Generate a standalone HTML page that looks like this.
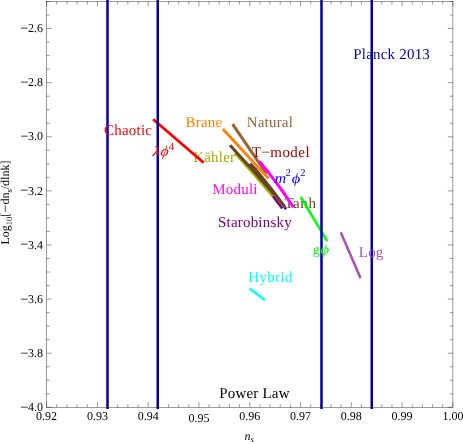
<!DOCTYPE html>
<html><head><meta charset="utf-8"><title>plot</title>
<style>
html,body{margin:0;padding:0;background:#fff;}
body{width:463px;height:444px;overflow:hidden;}
svg{display:block;}
text{font-family:"Liberation Serif",serif;}
.lab{font-size:15px;}
.tk{font-size:12px;fill:#000;}
.it{font-style:italic;}
</style></head><body>
<svg width="463" height="444" viewBox="0 0 463 444" style="will-change:transform">
<rect x="0" y="0" width="463" height="444" fill="#ffffff"/>

<g class="lab" transform="matrix(1 0 0.001 1 0 0)">
<text x="193.04" y="162.1" fill="#aaaa00" letter-spacing="0.2">Kähler</text>
<text x="284.19" y="208.5" fill="#664422" letter-spacing="0.6">Tanh</text>
</g>
<g fill="none" stroke-linecap="butt" stroke-linejoin="round">
<path d="M153.1 119.2 L203.7 162.7" stroke="#ff0000" stroke-width="2.8"/>
<path d="M232.6 124.2 L257.7 160.8 L266.5 173.7" stroke="#996633" stroke-width="3.0"/>
<path d="M235.1 152.9 L255 175.2 L273.5 196.9" stroke="#aaaa00" stroke-width="3.0"/>
<path d="M273 196.2 L282.3 208.5" stroke="#800080" stroke-width="2.6"/>
<path d="M222.9 129 L268.4 178.4" stroke="#ff8000" stroke-width="2.8"/>
<path d="M230.1 145.3 L240 156.25 L255 172.55 L274 194.2" stroke="#664422" stroke-width="3.0"/>
<path d="M250 163.6 L255 168.8 L269.7 187 L285 207.2" stroke="#664422" stroke-width="3.2"/>
<path d="M259.3 161.2 Q277.8 183.1 293.4 207.2" stroke="#ff00ff" stroke-width="3.0"/>
<path d="M284.6 207.6 L286.2 209" stroke="#0000ff" stroke-width="2.5"/>
<path d="M300.8 197 L327.2 241.2" stroke="#00ff00" stroke-width="2.5"/>
<path d="M340.7 232.2 L360.5 277.9" stroke="#a850b4" stroke-width="2.5"/>
<path d="M249.7 288.4 L265 300.2" stroke="#00ffff" stroke-width="2.5"/>
</g>
<g stroke="#0000aa" stroke-width="2.5">
<line x1="107.5" y1="0" x2="107.5" y2="409"/>
<line x1="157.75" y1="0" x2="157.75" y2="409"/>
<line x1="321.5" y1="0" x2="321.5" y2="409"/>
<line x1="371.75" y1="0" x2="371.75" y2="409"/>
</g>
<g class="lab" transform="matrix(1 0 0.001 1 0 0)">
<text x="103.96" y="135.3" fill="#ff0000" letter-spacing="0.2">Chaotic</text>
<text x="185.47" y="126.6" fill="#ff8000" letter-spacing="0.2">Brane</text>
<text x="246.57" y="126.9" fill="#996633" letter-spacing="0.2">Natural</text>
<text x="251.64" y="156.6" fill="#aa0000" letter-spacing="0.45">T−model</text>
<text x="212.11" y="194.5" fill="#ff00ff" letter-spacing="0.2">Moduli</text>
<text x="217.77" y="226.9" fill="#800080" letter-spacing="0.2">Starobinsky</text>
<text x="358.54" y="256.6" fill="#a850b4" letter-spacing="0.2">Log</text>
<text x="248.02" y="281.8" fill="#00ffff" letter-spacing="0.32">Hybrid</text>
<text x="218.8" y="397.7" fill="#000000" letter-spacing="0.2">Power Law</text>
<text x="353.24" y="59.2" fill="#0000aa" letter-spacing="0.2">Planck 2013</text>
</g>
<g transform="matrix(1 0 0.001 1 0 0)" fill="#ff0000">
<text transform="translate(152.34 156.4) skewX(-4) scale(1.28 1)" font-size="13.9" class="it">λ</text>
<text transform="translate(159.84 156.1) skewX(-9) scale(1.04 1)" font-size="15" class="it">ϕ</text>
<text x="168.55" y="149.6" font-size="11">4</text>
</g>
<g transform="matrix(1 0 0.001 1 0 0)" fill="#0000ff">
<text transform="translate(274.62 182.6) scale(1.09 1)" font-size="14.5" class="it">m</text>
<text x="285.42" y="176.5" font-size="10.5">2</text>
<text transform="translate(291.62 182.6) scale(1.19 1)" font-size="13.75" class="it">ϕ</text>
<text x="300.12" y="176.5" font-size="10.5">2</text>
</g>
<g transform="matrix(1 0 0.001 1 0 0)" fill="#00ff00">
<text x="312.55" y="254.4" font-size="14">g</text>
<text transform="translate(320.35 254.3) scale(1.2 1)" font-size="14" class="it">ϕ</text>
</g>
<g stroke="#111111" stroke-width="0.42" fill="none">
<rect x="46.6" y="1.5" width="406.3" height="405.8"/>
<path d="M46.6 407.3 v-5.1 M46.6 1.5 v5.1 M56.76 407.3 v-3.1 M56.76 1.5 v3.1 M66.92 407.3 v-3.1 M66.92 1.5 v3.1 M77.07 407.3 v-3.1 M77.07 1.5 v3.1 M87.23 407.3 v-3.1 M87.23 1.5 v3.1 M97.39 407.3 v-5.1 M97.39 1.5 v5.1 M107.55 407.3 v-3.1 M107.55 1.5 v3.1 M117.7 407.3 v-3.1 M117.7 1.5 v3.1 M127.86 407.3 v-3.1 M127.86 1.5 v3.1 M138.02 407.3 v-3.1 M138.02 1.5 v3.1 M148.18 407.3 v-5.1 M148.18 1.5 v5.1 M158.33 407.3 v-3.1 M158.33 1.5 v3.1 M168.49 407.3 v-3.1 M168.49 1.5 v3.1 M178.65 407.3 v-3.1 M178.65 1.5 v3.1 M188.81 407.3 v-3.1 M188.81 1.5 v3.1 M198.96 407.3 v-5.1 M198.96 1.5 v5.1 M209.12 407.3 v-3.1 M209.12 1.5 v3.1 M219.28 407.3 v-3.1 M219.28 1.5 v3.1 M229.44 407.3 v-3.1 M229.44 1.5 v3.1 M239.59 407.3 v-3.1 M239.59 1.5 v3.1 M249.75 407.3 v-5.1 M249.75 1.5 v5.1 M259.91 407.3 v-3.1 M259.91 1.5 v3.1 M270.07 407.3 v-3.1 M270.07 1.5 v3.1 M280.22 407.3 v-3.1 M280.22 1.5 v3.1 M290.38 407.3 v-3.1 M290.38 1.5 v3.1 M300.54 407.3 v-5.1 M300.54 1.5 v5.1 M310.7 407.3 v-3.1 M310.7 1.5 v3.1 M320.85 407.3 v-3.1 M320.85 1.5 v3.1 M331.01 407.3 v-3.1 M331.01 1.5 v3.1 M341.17 407.3 v-3.1 M341.17 1.5 v3.1 M351.32 407.3 v-5.1 M351.32 1.5 v5.1 M361.48 407.3 v-3.1 M361.48 1.5 v3.1 M371.64 407.3 v-3.1 M371.64 1.5 v3.1 M381.8 407.3 v-3.1 M381.8 1.5 v3.1 M391.95 407.3 v-3.1 M391.95 1.5 v3.1 M402.11 407.3 v-5.1 M402.11 1.5 v5.1 M412.27 407.3 v-3.1 M412.27 1.5 v3.1 M422.43 407.3 v-3.1 M422.43 1.5 v3.1 M432.58 407.3 v-3.1 M432.58 1.5 v3.1 M442.74 407.3 v-3.1 M442.74 1.5 v3.1 M452.9 407.3 v-5.1 M452.9 1.5 v5.1 M46.6 407.3 h5.1 M452.9 407.3 h-5.1 M46.6 393.77 h3.1 M452.9 393.77 h-3.1 M46.6 380.25 h3.1 M452.9 380.25 h-3.1 M46.6 366.72 h3.1 M452.9 366.72 h-3.1 M46.6 353.19 h5.1 M452.9 353.19 h-5.1 M46.6 339.67 h3.1 M452.9 339.67 h-3.1 M46.6 326.14 h3.1 M452.9 326.14 h-3.1 M46.6 312.61 h3.1 M452.9 312.61 h-3.1 M46.6 299.09 h5.1 M452.9 299.09 h-5.1 M46.6 285.56 h3.1 M452.9 285.56 h-3.1 M46.6 272.03 h3.1 M452.9 272.03 h-3.1 M46.6 258.51 h3.1 M452.9 258.51 h-3.1 M46.6 244.98 h5.1 M452.9 244.98 h-5.1 M46.6 231.45 h3.1 M452.9 231.45 h-3.1 M46.6 217.93 h3.1 M452.9 217.93 h-3.1 M46.6 204.4 h3.1 M452.9 204.4 h-3.1 M46.6 190.87 h5.1 M452.9 190.87 h-5.1 M46.6 177.35 h3.1 M452.9 177.35 h-3.1 M46.6 163.82 h3.1 M452.9 163.82 h-3.1 M46.6 150.29 h3.1 M452.9 150.29 h-3.1 M46.6 136.77 h5.1 M452.9 136.77 h-5.1 M46.6 123.24 h3.1 M452.9 123.24 h-3.1 M46.6 109.71 h3.1 M452.9 109.71 h-3.1 M46.6 96.19 h3.1 M452.9 96.19 h-3.1 M46.6 82.66 h5.1 M452.9 82.66 h-5.1 M46.6 69.13 h3.1 M452.9 69.13 h-3.1 M46.6 55.61 h3.1 M452.9 55.61 h-3.1 M46.6 42.08 h3.1 M452.9 42.08 h-3.1 M46.6 28.55 h5.1 M452.9 28.55 h-5.1 M46.6 15.03 h3.1 M452.9 15.03 h-3.1 M46.6 1.5 h3.1 M452.9 1.5 h-3.1"/>
</g>
<g class="tk" transform="matrix(1 0 0.001 1 0 0)">
<text x="46.18" y="419.8" text-anchor="middle">0.92</text>
<text x="96.97" y="419.8" text-anchor="middle">0.93</text>
<text x="147.76" y="419.8" text-anchor="middle">0.94</text>
<text x="198.54" y="422.2" text-anchor="middle">0.95</text>
<text x="249.33" y="419.8" text-anchor="middle">0.96</text>
<text x="300.12" y="419.8" text-anchor="middle">0.97</text>
<text x="350.91" y="419.8" text-anchor="middle">0.98</text>
<text x="401.69" y="419.8" text-anchor="middle">0.99</text>
<text x="452.48" y="419.8" text-anchor="middle">1.00</text>
<text x="42.59" y="411" text-anchor="end"><tspan font-size="14.5" dy="1.31">−</tspan><tspan dy="-1.31" dx="-0.4">4.0</tspan></text>
<text x="42.64" y="356.89" text-anchor="end"><tspan font-size="14.5" dy="1.42">−</tspan><tspan dy="-1.42" dx="-0.4">3.8</tspan></text>
<text x="42.7" y="302.79" text-anchor="end"><tspan font-size="14.5" dy="1.53">−</tspan><tspan dy="-1.53" dx="-0.4">3.6</tspan></text>
<text x="42.75" y="248.68" text-anchor="end"><tspan font-size="14.5" dy="0.63">−</tspan><tspan dy="-0.63" dx="-0.4">3.4</tspan></text>
<text x="42.81" y="194.57" text-anchor="end"><tspan font-size="14.5" dy="0.74">−</tspan><tspan dy="-0.74" dx="-0.4">3.2</tspan></text>
<text x="42.86" y="140.47" text-anchor="end"><tspan font-size="14.5" dy="0.85">−</tspan><tspan dy="-0.85" dx="-0.4">3.0</tspan></text>
<text x="42.91" y="86.36" text-anchor="end"><tspan font-size="14.5" dy="0.95">−</tspan><tspan dy="-0.95" dx="-0.4">2.8</tspan></text>
<text x="42.97" y="32.25" text-anchor="end"><tspan font-size="14.5" dy="1.06">−</tspan><tspan dy="-1.06" dx="-0.4">2.6</tspan></text>
</g>
<g transform="matrix(1 0 0.001 1 0 0)"><text x="244.06" y="439.8" class="tk it">n<tspan dy="2.5" font-size="8.5">s</tspan></text></g>
<text class="tk" transform="translate(9.2 244.6) rotate(-90) matrix(1 0 0.001 1 0 0)">Log<tspan dy="2.5" font-size="8.5">10</tspan><tspan dy="-2.5">[</tspan><tspan font-size="14.5" dy="0.8">−</tspan><tspan dy="-0.8">dn</tspan><tspan dy="2.5" font-size="8.5">s</tspan><tspan dy="-2.5">/dlnk]</tspan></text>
</svg>
</body></html>
